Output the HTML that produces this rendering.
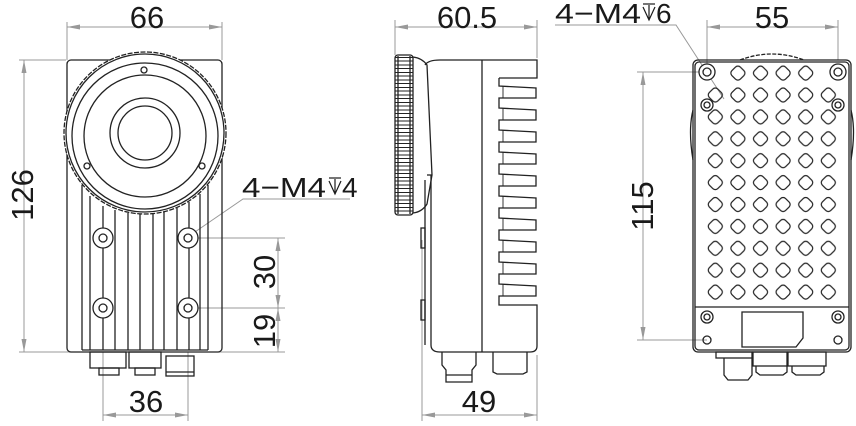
<!DOCTYPE html>
<html><head><meta charset="utf-8"><style>
html,body{margin:0;padding:0;background:#fff}
svg{display:block}
text{font-family:"Liberation Sans",sans-serif;fill:#1a1a1a}
</style></head><body>
<svg width="856" height="426" viewBox="0 0 856 426" xmlns="http://www.w3.org/2000/svg">
<defs>
<pattern id="dia" patternUnits="userSpaceOnUse" x="704" y="84" width="22.6" height="21.9">
<rect x="5.3" y="5" width="12" height="12" rx="3.5" transform="rotate(45 11.3 11)" fill="none" stroke="#222" stroke-width="1.2"/>
</pattern>
<pattern id="knurl" patternUnits="userSpaceOnUse" x="0" y="57" width="20" height="7.5">
<line x1="0" y1="0.5" x2="20" y2="0.5" stroke="#222" stroke-width="1.1"/>
<line x1="0" y1="4" x2="20" y2="4" stroke="#222" stroke-width="1"/>
</pattern>
</defs>

<!-- ================= FRONT VIEW ================= -->
<g stroke="#999" stroke-width="1" fill="none">
<line x1="67" y1="22" x2="67" y2="60"/><line x1="222" y1="22" x2="222" y2="60"/>
<line x1="67" y1="27" x2="222" y2="27"/>
<line x1="19" y1="60" x2="66" y2="60"/><line x1="19" y1="352" x2="285" y2="352"/>
<line x1="24" y1="60" x2="24" y2="352"/>
<line x1="190" y1="238" x2="285" y2="238"/><line x1="190" y1="308" x2="285" y2="308"/>
<line x1="278" y1="238" x2="278" y2="352"/>
<line x1="103" y1="352" x2="103" y2="421"/><line x1="188" y1="352" x2="188" y2="421"/>
<line x1="103" y1="415" x2="188" y2="415"/>
<polyline points="350,199 243,199 192,234"/>
</g>
<g fill="#999">
<polygon points="67,27 80,24.5 80,29.5"/><polygon points="222,27 209,24.5 209,29.5"/>
<polygon points="24,60 21.5,73 26.5,73"/><polygon points="24,352 21.5,339 26.5,339"/>
<polygon points="278,238 275.5,251 280.5,251"/><polygon points="278,308 275.5,295 280.5,295"/>
<polygon points="278,308 275.5,321 280.5,321"/><polygon points="278,352 275.5,339 280.5,339"/>
<polygon points="103,415 116,412.5 116,417.5"/><polygon points="188,415 175,412.5 175,417.5"/>
</g>
<text x="147" y="28" font-size="31" text-anchor="middle">66</text>
<text transform="translate(33,195) rotate(-90)" font-size="31" text-anchor="middle">126</text>
<text transform="translate(275,272) rotate(-90)" font-size="31" text-anchor="middle">30</text>
<text transform="translate(275,331) rotate(-90)" font-size="31" text-anchor="middle">19</text>
<text x="146" y="412" font-size="31" text-anchor="middle">36</text>
<text x="242" y="197" font-size="28" textLength="84" lengthAdjust="spacingAndGlyphs">4−M4</text>
<g stroke="#1a1a1a" stroke-width="1.2" fill="none"><line x1="329" y1="178" x2="341" y2="178"/><polyline points="329,181 335,194 341,181"/><line x1="335" y1="179" x2="335" y2="193"/></g>
<text x="342" y="197" font-size="28">4</text>

<g stroke="#222" stroke-width="1.3" fill="none">
<rect x="67" y="60" width="155" height="292" rx="4"/>
<circle cx="145" cy="133" r="81" fill="#fff" stroke-dasharray="5 1.5"/>
<circle cx="145" cy="133" r="79"/>
<circle cx="145" cy="136" r="73"/>
<circle cx="145" cy="136" r="61"/>
<circle cx="145" cy="133" r="35"/>
<circle cx="145" cy="133" r="27"/>
<circle cx="144" cy="70" r="3"/><circle cx="87" cy="166" r="3"/><circle cx="202" cy="166" r="3"/>
<line x1="82" y1="185" x2="82" y2="350"/><line x1="90" y1="196" x2="90" y2="350"/>
<line x1="103" y1="206" x2="103" y2="350"/><line x1="115" y1="210" x2="115" y2="350"/>
<line x1="128" y1="213" x2="128" y2="350"/><line x1="140" y1="214" x2="140" y2="350"/>
<line x1="153" y1="214" x2="153" y2="350"/><line x1="164" y1="212" x2="164" y2="350"/>
<line x1="177" y1="208" x2="177" y2="350"/><line x1="189" y1="202" x2="189" y2="350"/>
<line x1="200" y1="194" x2="200" y2="350"/><line x1="208" y1="185" x2="208" y2="350"/>
<line x1="82" y1="350" x2="208" y2="350"/>
<g fill="#fff">
<circle cx="103" cy="238" r="10"/><circle cx="188" cy="238" r="10"/>
<circle cx="103" cy="308" r="10"/><circle cx="188" cy="308" r="10"/>
</g>
<circle cx="103" cy="238" r="4"/><circle cx="188" cy="238" r="4"/>
<circle cx="103" cy="308" r="4"/><circle cx="188" cy="308" r="4"/>
<rect x="90" y="352" width="36" height="16"/><rect x="99" y="368" width="20" height="7"/>
<rect x="129" y="352" width="32" height="16"/><rect x="135" y="368" width="20" height="7"/>
<rect x="166" y="356" width="28" height="20"/><line x1="166" y1="372" x2="194" y2="372"/>
</g>

<!-- ================= SIDE VIEW ================= -->
<g stroke="#999" stroke-width="1" fill="none">
<line x1="395" y1="20" x2="395" y2="55"/><line x1="537" y1="20" x2="537" y2="58"/>
<line x1="395" y1="27" x2="537" y2="27"/>
<line x1="422" y1="240" x2="422" y2="421"/><line x1="537" y1="355" x2="537" y2="421"/>
<line x1="422" y1="415" x2="537" y2="415"/>
</g>
<g fill="#999">
<polygon points="395,27 408,24.5 408,29.5"/><polygon points="537,27 524,24.5 524,29.5"/>
<polygon points="422,415 435,412.5 435,417.5"/><polygon points="537,415 524,412.5 524,417.5"/>
</g>
<text x="467" y="28" font-size="31" text-anchor="middle">60.5</text>
<text x="479" y="412" font-size="31" text-anchor="middle">49</text>
<g stroke="#222" stroke-width="1.3" fill="none">
<rect x="395" y="55" width="18" height="160" rx="3" fill="url(#knurl)"/>
<line x1="398" y1="56" x2="398" y2="214"/><line x1="410" y1="56" x2="410" y2="214"/>
<path d="M413,57 Q422,58 427,65 L432,175 L427,204 Q422,212 413,213"/>
<path d="M425,65 Q428,60 440,60 L537,60 L537,78 L499,78"/>
<path d="M499,78 L499,86 L536,88 L536,98 L499,98 L499,108 L536,110 L536,120 L499,120 L499,130 L536,132 L536,142 L499,142 L499,152 L536,154 L536,164 L499,164 L499,174 L536,176 L536,186 L499,186 L499,196 L536,198 L536,208 L499,208 L499,218 L536,220 L536,230 L499,230 L499,240 L536,242 L536,252 L499,252 L499,262 L536,264 L536,274 L499,274 L499,284 L536,286 L536,296 L499,296 L499,305 L537,305 L537,346 Q537,352 530,352 L440,352 Q431,352 431,345 L431,175"/>
<g stroke-width="0.9"><line x1="503" y1="86" x2="503" y2="98"/><line x1="503" y1="108" x2="503" y2="120"/><line x1="503" y1="130" x2="503" y2="142"/><line x1="503" y1="152" x2="503" y2="164"/><line x1="503" y1="174" x2="503" y2="186"/><line x1="503" y1="196" x2="503" y2="208"/><line x1="503" y1="218" x2="503" y2="230"/><line x1="503" y1="240" x2="503" y2="252"/><line x1="503" y1="262" x2="503" y2="274"/><line x1="503" y1="284" x2="503" y2="296"/></g>
<line x1="482" y1="60" x2="482" y2="352"/>
<line x1="427" y1="175" x2="432" y2="175"/>
<rect x="421" y="228" width="4" height="20"/><rect x="421" y="300" width="4" height="20"/>
<line x1="425" y1="180" x2="425" y2="345"/>
<path d="M442,352 L442,365 L446,370 L446,382 L472,382 L472,370 L476,365 L476,352"/>
<line x1="446" y1="375" x2="472" y2="375"/>
<path d="M493,352 L493,372 L497,374 L523,374 L527,372 L527,352"/>
</g>

<!-- ================= BACK VIEW ================= -->
<g stroke="#999" stroke-width="1" fill="none">
<line x1="707" y1="20" x2="707" y2="72"/><line x1="838" y1="20" x2="838" y2="60"/>
<line x1="707" y1="27" x2="838" y2="27"/>
<line x1="637" y1="72" x2="707" y2="72"/><line x1="637" y1="340" x2="707" y2="340"/>
<line x1="643" y1="72" x2="643" y2="340"/>
<polyline points="555,25 676,25 724,99"/>
</g>
<g fill="#999">
<polygon points="707,27 720,24.5 720,29.5"/><polygon points="838,27 825,24.5 825,29.5"/>
<polygon points="643,72 640.5,85 645.5,85"/><polygon points="643,340 640.5,327 645.5,327"/>
</g>
<text x="772" y="28" font-size="31" text-anchor="middle">55</text>
<text transform="translate(653,206) rotate(-90)" font-size="31" text-anchor="middle">115</text>
<text x="555" y="23" font-size="28" textLength="86" lengthAdjust="spacingAndGlyphs">4−M4</text>
<g stroke="#1a1a1a" stroke-width="1.2" fill="none"><line x1="643" y1="4" x2="655" y2="4"/><polyline points="643,7 649,20 655,7"/><line x1="649" y1="5" x2="649" y2="19"/></g>
<text x="656" y="23" font-size="28">6</text>
<g stroke="#222" stroke-width="1.3" fill="none">
<path d="M740,60 Q772,48 804,60" stroke-dasharray="4 1.5"/>
<path d="M693,110 Q688,130 693,160"/><path d="M851,110 Q856,130 851,160"/>
<rect x="693" y="60" width="158" height="292" rx="5"/>
<rect x="695" y="62" width="154" height="288" rx="4"/>
<path d="M695,307 L849,307"/>
<rect x="704" y="84" width="135.6" height="219" fill="url(#dia)" stroke="none"/>
<rect x="726" y="62" width="90.4" height="21.9" fill="url(#dia)" stroke="none"/>
<circle cx="707" cy="72" r="8" fill="#fff"/><circle cx="707" cy="72" r="4"/>
<circle cx="838" cy="72" r="8" fill="#fff"/><circle cx="838" cy="72" r="4"/>
<circle cx="707" cy="105" r="6" fill="#fff"/><circle cx="707" cy="105" r="3"/>
<circle cx="838" cy="105" r="6" fill="#fff"/><circle cx="838" cy="105" r="3"/>
<circle cx="707" cy="317" r="6"/><circle cx="707" cy="317" r="3"/>
<circle cx="838" cy="317" r="6"/><circle cx="838" cy="317" r="3"/>
<circle cx="707" cy="340" r="4"/><circle cx="838" cy="340" r="4"/>
<path d="M742,312 L803,312 L803,338 L796,347 L742,347 Z"/>
<rect x="716" y="352" width="36" height="6"/>
<path d="M724,358 L724,375 L728,380 L748,380 L752,375 L752,358"/>
<rect x="753" y="352" width="34" height="14"/><path d="M756,366 L756,372 L760,375 L783,375 L787,372 L787,366"/>
<rect x="788" y="352" width="38" height="14"/><path d="M792,366 L792,372 L796,375 L820,375 L824,372 L824,366"/>
</g>
</svg>
</body></html>
